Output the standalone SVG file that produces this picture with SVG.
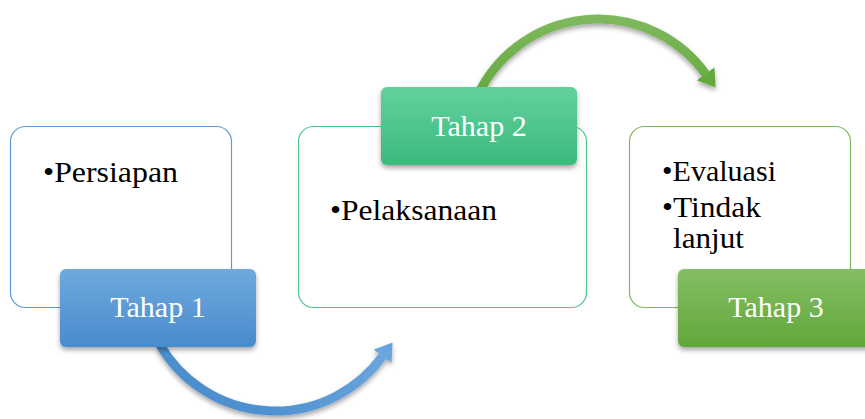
<svg xmlns="http://www.w3.org/2000/svg" width="865" height="419" viewBox="0 0 865 419">
  <style>
    .body { font-family: "Liberation Serif", "DejaVu Serif", serif; font-size: 30px; fill: #000; }
    .lbl { font-family: "Liberation Serif", "DejaVu Serif", serif; font-size: 30px; fill: #fff; text-anchor: middle; }
    .frame { fill: #fff; stroke-width: 1.2; }
  </style>
  <defs>
    <linearGradient id="gBlue" x1="0" y1="0" x2="0" y2="1">
      <stop offset="0" stop-color="#6FA9DE"/>
      <stop offset="1" stop-color="#498BCC"/>
    </linearGradient>
    <linearGradient id="gTeal" x1="0" y1="0" x2="0" y2="1">
      <stop offset="0" stop-color="#62D19C"/>
      <stop offset="1" stop-color="#3BBA7D"/>
    </linearGradient>
    <linearGradient id="gGreen" x1="0" y1="0" x2="0" y2="1">
      <stop offset="0" stop-color="#84BE64"/>
      <stop offset="1" stop-color="#61A73A"/>
    </linearGradient>
    <linearGradient id="gArrowBlue" x1="0" y1="0" x2="1" y2="0">
      <stop offset="0" stop-color="#4C8DCD"/>
      <stop offset="0.5" stop-color="#4F91D0"/>
      <stop offset="1" stop-color="#69A4DC"/>
    </linearGradient>
    <linearGradient id="gArrowGreen" x1="0" y1="0" x2="0" y2="1">
      <stop offset="0" stop-color="#7DB85C"/>
      <stop offset="1" stop-color="#64AA3E"/>
    </linearGradient>
    <filter id="shadow" x="-10%" y="-20%" width="120%" height="150%">
      <feDropShadow dx="0" dy="3" stdDeviation="2.5" flood-color="#000" flood-opacity="0.35"/>
    </filter>
    <marker id="headBlue" markerUnits="userSpaceOnUse" markerWidth="20" markerHeight="24" refX="0" refY="11" orient="auto">
      <path d="M0,0 L17,11 L0,22 Z" fill="#69A4DC"/>
    </marker>
    <marker id="headGreen" markerUnits="userSpaceOnUse" markerWidth="20" markerHeight="24" refX="0" refY="11" orient="auto">
      <path d="M0,0 L17,11 L0,22 Z" fill="#64AA3E"/>
    </marker>
  </defs>

  <g id="connectors" fill="none" stroke-width="9" filter="url(#shadow)">
    <path d="M159.8,344.5 A133,133 0 0 0 382.6,356.2" stroke="url(#gArrowBlue)" marker-end="url(#headBlue)"/>
    <path d="M477.5,95.8 A133,133 0 0 1 705.6,73.8" stroke="url(#gArrowGreen)" marker-end="url(#headGreen)"/>
  </g>

  <g id="node1">
    <rect class="frame" x="10.5" y="126.5" width="221" height="181" rx="15" stroke="#5B9BD5"/>
    <text class="body" x="43" y="182" textLength="135" lengthAdjust="spacingAndGlyphs">•Persiapan</text>
    <rect x="60" y="269" width="196" height="78" rx="6" fill="url(#gBlue)" filter="url(#shadow)"/>
    <text class="lbl" x="158" y="317">Tahap 1</text>
  </g>

  <g id="node2">
    <rect class="frame" x="298.5" y="126.5" width="288" height="181" rx="15" stroke="#4EC68C"/>
    <text class="body" x="330" y="220" textLength="167" lengthAdjust="spacingAndGlyphs">•Pelaksanaan</text>
    <rect x="381" y="87" width="196" height="78" rx="6" fill="url(#gTeal)" filter="url(#shadow)"/>
    <text class="lbl" x="479" y="136">Tahap 2</text>
  </g>

  <g id="node3">
    <rect class="frame" x="629.5" y="126.5" width="221" height="181" rx="15" stroke="#7CB85C"/>
    <text class="body" x="662" y="181" textLength="114" lengthAdjust="spacingAndGlyphs">•Evaluasi</text>
    <text class="body" x="662" y="217" textLength="99" lengthAdjust="spacingAndGlyphs">•Tindak</text>
    <text class="body" x="673" y="248" textLength="71" lengthAdjust="spacingAndGlyphs">lanjut</text>
    <rect x="678" y="269" width="196" height="78" rx="6" fill="url(#gGreen)" filter="url(#shadow)"/>
    <text class="lbl" x="776" y="317">Tahap 3</text>
  </g>
</svg>
